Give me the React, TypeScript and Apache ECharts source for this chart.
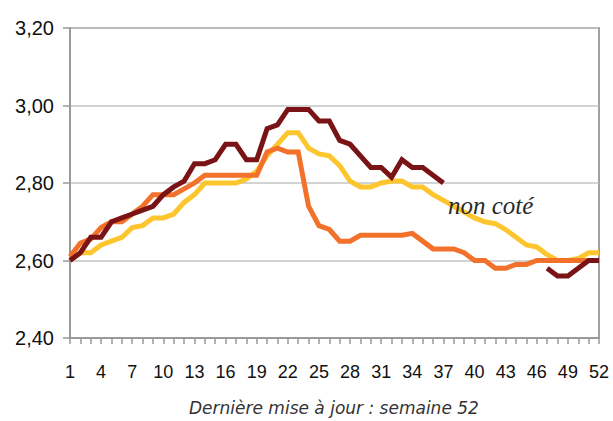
import React, { useEffect, useRef } from "react";
import * as echarts from "echarts";

const weeks: string[] = Array.from({ length: 52 }, (_, i) => String(i + 1));

const yellowSeries: number[] = [
  2.60, 2.62, 2.62, 2.64, 2.65, 2.66, 2.685, 2.69, 2.71, 2.71,
  2.72, 2.75, 2.77, 2.80, 2.80, 2.80, 2.80, 2.81, 2.83, 2.87,
  2.90, 2.93, 2.93, 2.89, 2.875, 2.87, 2.845, 2.805, 2.79, 2.79,
  2.80, 2.805, 2.805, 2.79, 2.79, 2.77, 2.755, 2.74, 2.725, 2.71,
  2.70, 2.695, 2.68, 2.66, 2.64, 2.635, 2.615, 2.60, 2.60, 2.605,
  2.62, 2.62,
];

const orangeSeries: number[] = [
  2.61, 2.645, 2.655, 2.685, 2.70, 2.70, 2.72, 2.74, 2.77, 2.77,
  2.77, 2.785, 2.80, 2.82, 2.82, 2.82, 2.82, 2.82, 2.82, 2.88,
  2.89, 2.88, 2.88, 2.74, 2.69, 2.68, 2.65, 2.65, 2.665, 2.665,
  2.665, 2.665, 2.665, 2.67, 2.65, 2.63, 2.63, 2.63, 2.62, 2.60,
  2.60, 2.58, 2.58, 2.59, 2.59, 2.60, 2.60, 2.60, 2.60, 2.60,
  2.60, 2.60,
];

const maroonSeries: (number | null)[] = [
  2.60, 2.62, 2.66, 2.66, 2.70, 2.71, 2.72, 2.73, 2.74, 2.77,
  2.79, 2.805, 2.85, 2.85, 2.86, 2.90, 2.90, 2.86, 2.86, 2.94,
  2.95, 2.99, 2.99, 2.99, 2.96, 2.96, 2.91, 2.90, 2.87, 2.84,
  2.84, 2.815, 2.86, 2.84, 2.84, 2.82, 2.80, null, null, null,
  null, null, null, null, null, null, 2.58, 2.56, 2.56, 2.58,
  2.60, 2.60,
];

const yTicks = { min: 2.4, max: 3.2, interval: 0.2 };
const annotation = "non coté";
const footer = "Dernière mise à jour : semaine 52";

export default function App() {
  const ref = useRef<HTMLDivElement>(null);
  useEffect(() => {
    if (!ref.current) return;
    const chart = echarts.init(ref.current, undefined, { renderer: "svg" });
    const lineSeries = (name: string, data: (number | null)[], color: string) => ({
      name,
      type: "line",
      data,
      symbol: "none",
      connectNulls: false,
      lineStyle: { color, width: 5, join: "miter" },
      itemStyle: { color },
    });
    chart.setOption({
      animation: false,
      backgroundColor: "#ffffff",
      grid: {
        left: 70,
        right: 14,
        top: 28,
        bottom: 83,
        show: true,
        borderColor: "#a0a0a0",
        borderWidth: 2,
      },
      xAxis: {
        type: "category",
        data: weeks,
        boundaryGap: false,
        axisLine: { lineStyle: { color: "#999999", width: 2 } },
        axisTick: { show: true, interval: 0, length: 6, lineStyle: { color: "#999999", width: 1.5 } },
        axisLabel: {
          interval: 2,
          margin: 25,
          fontSize: 18,
          color: "#111111",
          fontFamily: "Liberation Sans",
        },
        splitLine: { show: false },
      },
      yAxis: {
        type: "value",
        min: yTicks.min,
        max: yTicks.max,
        interval: yTicks.interval,
        axisLine: { show: true, lineStyle: { color: "#999999", width: 2 } },
        axisTick: { show: true, length: 7, lineStyle: { color: "#999999", width: 1.5 } },
        axisLabel: {
          fontSize: 20,
          margin: 16,
          color: "#111111",
          fontFamily: "Liberation Sans",
          formatter: (v: number) => v.toFixed(2).replace(".", ","),
        },
        splitLine: { show: true, lineStyle: { color: "#c4c4c4", width: 1.5 } },
      },
      series: [
        lineSeries("yellow", yellowSeries, "#fec62e"),
        lineSeries("orange", orangeSeries, "#f2722c"),
        lineSeries("maroon", maroonSeries, "#7a1315"),
      ],
      graphic: [
        {
          type: "text",
          left: 448,
          top: 193,
          z: 100,
          style: {
            text: annotation,
            font: "italic 25px 'Liberation Serif'",
            fill: "#2a2a2a",
          },
        },
        {
          type: "text",
          left: 189,
          top: 399,
          style: {
            text: footer,
            font: "oblique 17px 'DejaVu Sans'",
            fill: "#333333",
          },
        },
      ],
    });
    return () => chart.dispose();
  }, []);
  return (
    <div
      ref={ref}
      style={{ position: "fixed", left: 0, top: 0, width: 613, height: 421 }}
    />
  );
}
